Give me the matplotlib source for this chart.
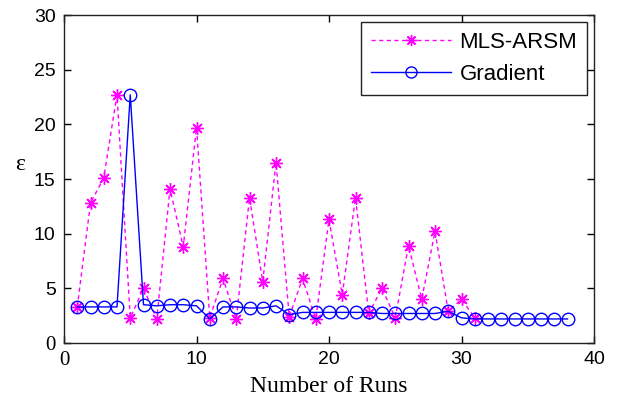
import matplotlib
matplotlib.use("Agg")
import matplotlib.pyplot as plt

runs_mls = list(range(1, 32))
mls_arsm = [3.3, 12.8, 15.1, 22.7, 2.3, 5.0, 2.2, 14.1, 8.8, 19.7,
            2.3, 5.9, 2.2, 13.3, 5.6, 16.5, 2.4, 5.9, 2.2, 11.3,
            4.4, 13.3, 2.7, 5.0, 2.3, 8.9, 4.0, 10.2, 2.9, 4.0, 2.3]

runs_grad = list(range(1, 39))
gradient = [3.3, 3.3, 3.3, 3.3, 22.7, 3.5, 3.4, 3.5, 3.5, 3.4,
            2.2, 3.3, 3.3, 3.2, 3.2, 3.4, 2.6, 2.8, 2.8, 2.8,
            2.8, 2.8, 2.8, 2.7, 2.7, 2.7, 2.7, 2.7, 2.9, 2.3,
            2.2, 2.2, 2.2, 2.2, 2.2, 2.2, 2.2, 2.2]

xticks = [0, 10, 20, 30, 40]
yticks = [0, 5, 10, 15, 20, 25, 30]

fig = plt.figure(figsize=(6.18, 4.07), dpi=100)
ax = fig.add_axes([64/618, 1 - 343/407, (594 - 64)/618, (343 - 15)/407])

ax.plot(runs_mls, mls_arsm, color="#ff00ff", linestyle=(0, (3, 2.5)), linewidth=1.0,
        marker=(8, 2, 0), markersize=9, markeredgewidth=1.0, label="MLS-ARSM")
ax.plot(runs_grad, gradient, color="#0000ff", linestyle="-", linewidth=1.0,
        marker="o", markersize=9, markerfacecolor="none", markeredgewidth=1.0,
        label="Gradient")

ax.set_xlim(0, 40)
ax.set_ylim(0, 30)
ax.set_xticks(xticks)
ax.set_yticks(yticks)
ax.tick_params(direction="in", length=5, width=1.0, labelsize=14, top=True, right=True,
               pad=6)
for lab in ax.get_xticklabels() + ax.get_yticklabels():
    lab.set_fontfamily("Liberation Sans")
    if lab.get_text() == "0":
        lab.set_fontfamily("Liberation Serif")
        lab.set_fontsize(15)
for sp in ax.spines.values():
    sp.set_linewidth(1.0)
    sp.set_color("#222222")

ax.set_xlabel("Number of Runs", fontfamily="Liberation Serif", fontsize=17, labelpad=4)
ax.set_ylabel("ε", fontfamily="Liberation Serif", fontsize=17, rotation=0,
              va="center", ha="center")
ax.yaxis.set_label_coords((20 - 64) / 530, (343 - 165) / 328)

leg = ax.legend(loc="upper right", prop={"family": "Liberation Sans", "size": 16},
                frameon=True, fancybox=False, edgecolor="#222222", framealpha=1,
                handlelength=3.6, borderaxespad=0.3, labelspacing=0.5,
                handletextpad=0.4, borderpad=0.45)
leg.get_frame().set_linewidth(1.0)
for h in leg.legend_handles:
    h.set_markersize(8)

fig.savefig("out.png", dpi=100)
